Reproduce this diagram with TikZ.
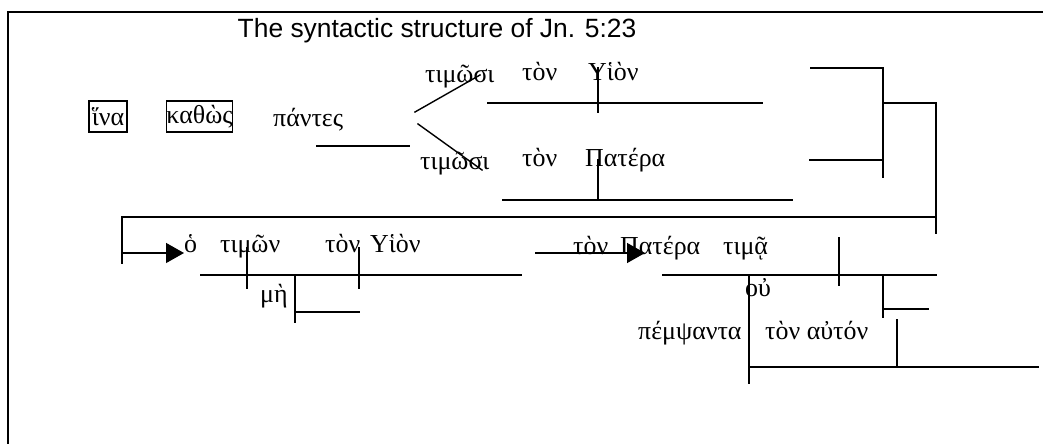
\documentclass[tikz,border=0pt]{standalone}
\usepackage{fontspec}
\setmainfont{Liberation Serif}
\newfontfamily\titlefont{Liberation Sans}
\usetikzlibrary{arrows.meta}
\begin{document}
\begin{tikzpicture}[x=1bp,y=-1bp,
  ln/.style={line width=1.4bp, line cap=rect},
  frame/.style={line width=2bp},
  grk/.style={font=\fontsize{26}{28}\selectfont, inner sep=0, anchor=base west},
  boxword/.style={draw, line width=1.4bp, font=\fontsize{26}{28}\selectfont, inner sep=0, minimum height=31bp},
  tipped/.style={line width=1.4bp, -{Triangle[length=18bp,width=20bp]}}]
\useasboundingbox (0,0) rectangle (1043,444);
\clip (0,0) rectangle (1043,444);
\fill[white] (0,0) rectangle (1043,444);
% frame
\draw[frame] (8,460) -- (8,12) -- (1060,12);
% title
\node[font=\titlefont\fontsize{26.5}{30}\selectfont, inner sep=0, anchor=base west] (title) at (237.5,37.5) {The syntactic structure of Jn. 5:23};
% words
\node[boxword, minimum width=38bp] (hina) at (108,116.5) {ἵνα};
\node[boxword, minimum width=65bp] (kathos) at (199.5,116.5) {καθὼς};
\node[grk] (pantes) at (273,127) {πάντες};
\node[grk] (tim1) at (425,83) {τιμῶσι};
\node[grk] (ton1) at (522,81) {τὸν};
\node[grk] (huion1) at (588,81) {Υἱὸν};
\node[grk] (tim2) at (420,170) {τιμῶσι};
\node[grk] (ton2) at (522,167) {τὸν};
\node[grk] (pat1) at (585,167) {Πατέρα};
\node[grk] (ho) at (184,253) {ὁ};
\node[grk] (timon) at (220,253) {τιμῶν};
\node[grk] (ton3) at (325,253) {τὸν};
\node[grk] (huion2) at (370,253) {Υἱὸν};
\node[grk] (me) at (260,303) {μὴ};
\node[grk] (ton4) at (573,255) {τὸν};
\node[grk] (pat2) at (620,255) {Πατέρα};
\node[grk] (tima) at (723,255) {τιμᾷ};
\node[grk] (ou) at (745,297) {οὐ};
\node[grk] (pempsanta) at (638,340) {πέμψαντα};
\node[grk] (auton) at (765,340) {τὸν αὐτόν};
% upper clause
\draw[ln] (317,146) -- (409,146);
\draw[ln] (415,112) -- (480,75);
\draw[ln] (418,124) -- (482,170);
\draw[ln] (488,103) -- (762,103);
\draw[ln] (598,68) -- (598,112);
\draw[ln] (503,200) -- (792,200);
\draw[ln] (598,160) -- (598,200);
% bracket
\draw[ln] (811,68) -- (883,68) -- (883,177);
\draw[ln] (810,160) -- (883,160);
\draw[ln] (883,103) -- (936,103) -- (936,233);
\draw[ln] (122,217) -- (936,217);
\draw[ln] (122,217) -- (122,263);
% lower clause
\coordinate (a1s) at (122,253);
\coordinate (a1e) at (184,253);
\draw[tipped] (a1s) -- (a1e);
\draw[ln] (201,275) -- (521,275);
\draw[ln] (247,248) -- (247,288);
\draw[ln] (359,248) -- (359,288);
\draw[ln] (295,275) -- (295,322);
\draw[ln] (295,312) -- (359,312);
\coordinate (a2s) at (535,253);
\coordinate (a2e) at (645,253);
\draw[tipped] (a2s) -- (a2e);
\draw[ln] (663,275) -- (936,275);
\draw[ln] (839,238) -- (839,285);
\draw[ln] (749,275) -- (749,383);
\draw[ln] (883,275) -- (883,317);
\draw[ln] (883,309) -- (928,309);
\draw[ln] (897,320) -- (897,367);
\draw[ln] (749,367) -- (1038,367);
\end{tikzpicture}
\end{document}
